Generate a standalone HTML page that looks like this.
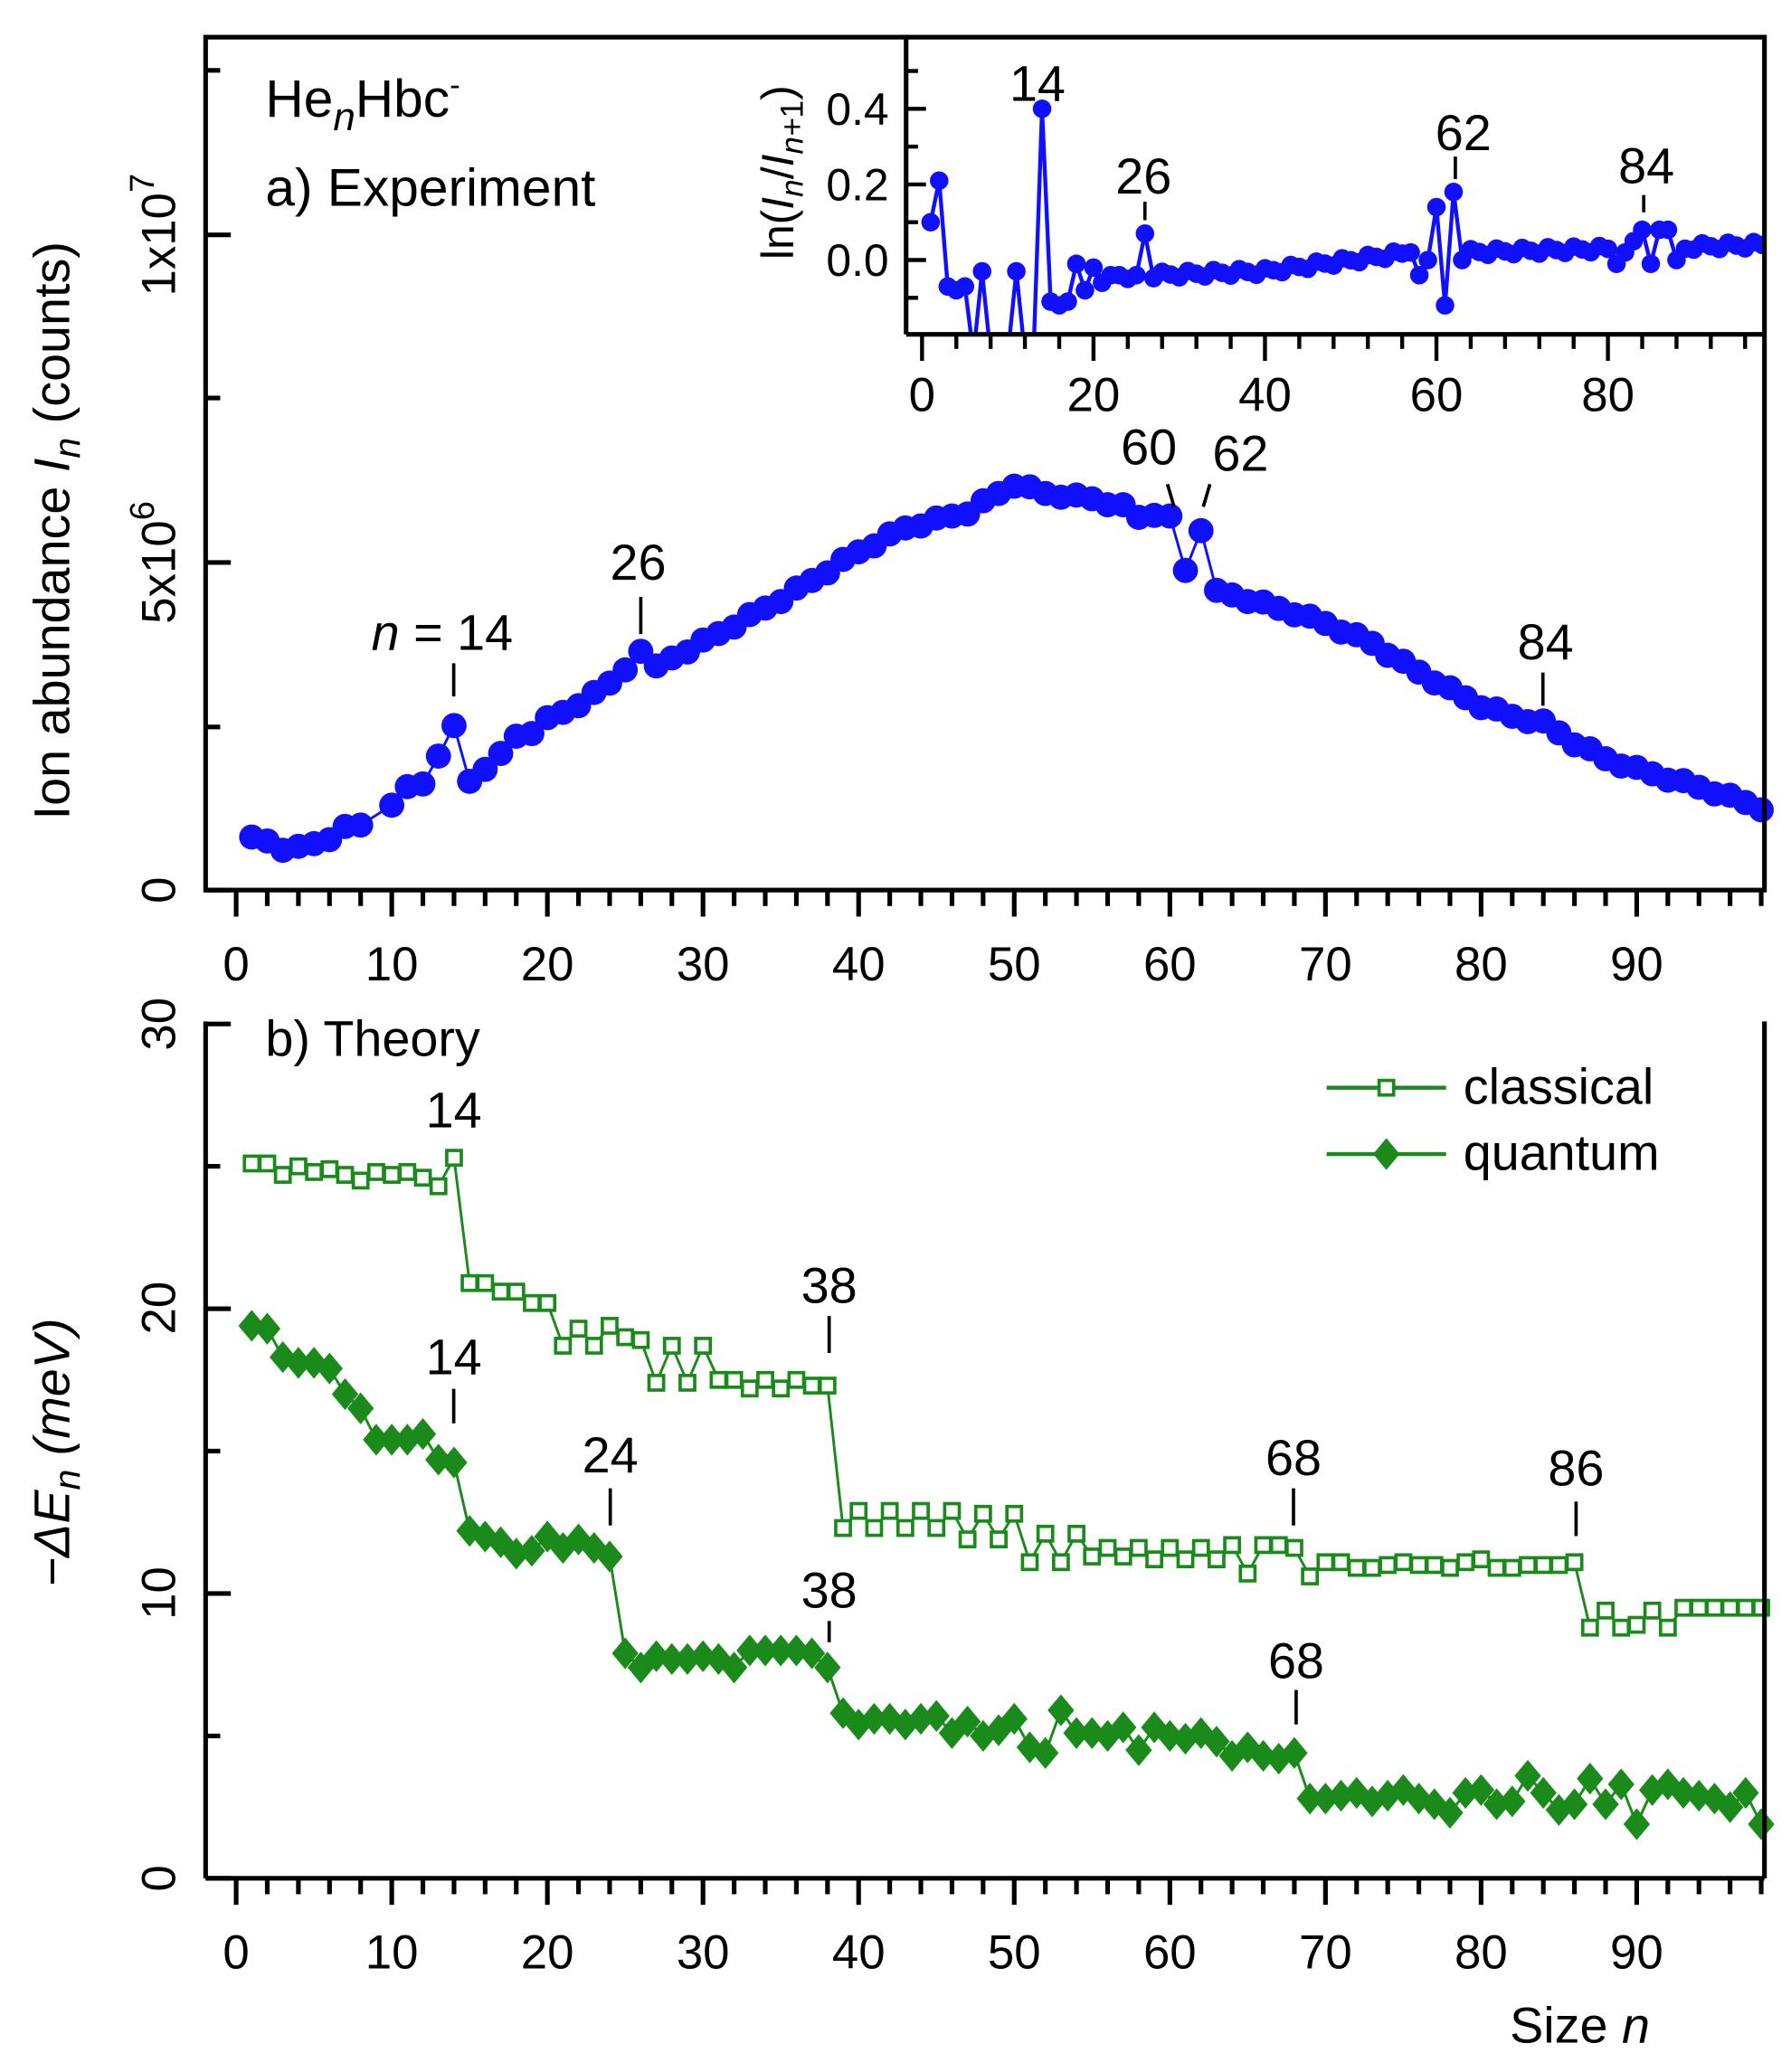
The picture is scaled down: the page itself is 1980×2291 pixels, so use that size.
<!DOCTYPE html>
<html><head><meta charset="utf-8"><style>
html,body{margin:0;padding:0;background:#fff}
svg{display:block}
text{font-family:"Liberation Sans",Arial,sans-serif;fill:#000}
</style></head><body>
<svg id="s" width="1980" height="2291" viewBox="0 0 1350 1562" xmlns="http://www.w3.org/2000/svg">
<defs>
<clipPath id="ci"><rect x="683" y="28" width="647" height="224"/></clipPath>
</defs>
<g id="g"></g>
<text x="200" y="88" font-size="40">He<tspan font-style="italic" font-size="30" dy="10">n</tspan><tspan dy="-10">Hbc</tspan><tspan font-size="24" dy="-16">-</tspan></text>
<text x="200" y="155" font-size="40">a) Experiment</text>
<text transform="translate(52,400) rotate(-90)" font-size="38" text-anchor="middle">Ion abundance <tspan font-style="italic">I</tspan><tspan font-style="italic" font-size="28" dy="8">n</tspan><tspan dy="-8"> (counts)</tspan></text>
<text transform="translate(132,671) rotate(-90)" font-size="36" text-anchor="middle">0</text>
<text transform="translate(132,424) rotate(-90)" font-size="36" text-anchor="middle">5x10<tspan font-size="26" dy="-16">6</tspan></text>
<text transform="translate(132,177) rotate(-90)" font-size="36" text-anchor="middle">1x10<tspan font-size="26" dy="-16">7</tspan></text>
<text transform="translate(598,130) rotate(-90)" font-size="34" text-anchor="middle">ln(<tspan font-style="italic">I</tspan><tspan font-style="italic" font-size="24" dy="7">n</tspan><tspan dy="-7">/</tspan><tspan font-style="italic">I</tspan><tspan font-style="italic" font-size="24" dy="7">n+</tspan><tspan font-size="24">1</tspan><tspan dy="-7">)</tspan></text>
<text x="280" y="490" font-size="38"><tspan font-style="italic">n</tspan> = 14</text>
<text x="481" y="437" font-size="38" text-anchor="middle">26</text>
<text x="866" y="350" font-size="38" text-anchor="middle">60</text>
<text x="935" y="355" font-size="38" text-anchor="middle">62</text>
<text x="1165" y="497" font-size="38" text-anchor="middle">84</text>
<text x="782" y="76" font-size="38" text-anchor="middle">14</text>
<text x="862" y="146" font-size="38" text-anchor="middle">26</text>
<text x="1103" y="113" font-size="38" text-anchor="middle">62</text>
<text x="1241" y="138" font-size="38" text-anchor="middle">84</text>
<text x="200" y="796" font-size="38">b) Theory</text>
<text x="342" y="850" font-size="38" text-anchor="middle">14</text>
<text x="625" y="982" font-size="38" text-anchor="middle">38</text>
<text x="342" y="1036" font-size="38" text-anchor="middle">14</text>
<text x="460" y="1110" font-size="38" text-anchor="middle">24</text>
<text x="625" y="1212" font-size="38" text-anchor="middle">38</text>
<text x="975" y="1112" font-size="38" text-anchor="middle">68</text>
<text x="977" y="1265" font-size="38" text-anchor="middle">68</text>
<text x="1188" y="1120" font-size="38" text-anchor="middle">86</text>
<text x="1103" y="832" font-size="38">classical</text>
<text x="1103" y="882" font-size="38">quantum</text>
<text transform="translate(52,1095) rotate(-90)" font-size="38" text-anchor="middle" font-style="italic">−ΔE<tspan font-size="28" dy="8">n</tspan><tspan dy="-8"> (meV)</tspan></text>
<text transform="translate(132,1416) rotate(-90)" font-size="36" text-anchor="middle">0</text>
<text transform="translate(132,1201) rotate(-90)" font-size="36" text-anchor="middle">10</text>
<text transform="translate(132,986) rotate(-90)" font-size="36" text-anchor="middle">20</text>
<text transform="translate(132,772) rotate(-90)" font-size="36" text-anchor="middle">30</text>
<text x="1138" y="1540" font-size="38">Size <tspan font-style="italic">n</tspan></text>
</svg>
<script>
var NS="http://www.w3.org/2000/svg",G=document.getElementById("g");
function el(t,a,p){var e=document.createElementNS(NS,t);for(var k in a)e.setAttribute(k,a[k]);(p||G).appendChild(e);return e;}
function X(n){return 178+11.73*n;}
function XI(n){return 695+6.4625*n;}
var B="#1010ff",GR="#1a8a1a";
var topY={1:631,2:634,3:641,4:638,5:636,6:633,7:623,8:622,10:607,11:593,12:591,13:570,14:547,15:589,16:580,17:568,18:555,19:553,20:541,21:537,22:532,23:522,24:515,25:505,26:491,27:502};
var anchors=[[27,502],[30,484],[35,452],[40,416],[43,398],[45,392],[47,386],[50,365],[52,372],[55,376],[57,382],[58,390],[59,387],[60,389],[61,430],[62,400],[63,445],[65,452],[68,462],[70,470],[73,485],[75,500],[78,520],[80,532],[82,540],[84,545],[86,560],[88,572],[90,580],[93,590],[95,597],[98,609]];
for(var i=0;i<anchors.length-1;i++){var a=anchors[i],b=anchors[i+1];for(var n=a[0];n<=b[0];n++){if(n==61||n==62||topY[n]!==undefined&&n<28)continue;topY[n]=a[1]+(b[1]-a[1])*(n-a[0])/(b[0]-a[0])+((n*7)%3-1)*1.5;}}
topY[61]=430;topY[62]=400;topY[60]=389;topY[63]=445;
var pts=[];for(var n=1;n<=98;n++)if(topY[n]!==undefined)pts.push(X(n)+","+topY[n]);
el("polyline",{points:pts.join(" "),fill:"none",stroke:B,"stroke-width":2});
for(var n=1;n<=98;n++)if(topY[n]!==undefined)el("circle",{cx:X(n),cy:topY[n],r:9.5,fill:B});
var iv={1:0.1,2:0.21,3:-0.07,4:-0.08,5:-0.07,6:-0.25,7:-0.03,8:-0.25,9:-0.25,10:-0.25,11:-0.03,12:-0.25,13:-0.25,14:0.4,15:-0.11,16:-0.12,17:-0.11,18:-0.01,19:-0.08,20:-0.02,21:-0.06,22:-0.04,23:-0.04,24:-0.05,25:-0.04,26:0.07,57:0.02,58:-0.04,59:0.0,60:0.14,61:-0.12,62:0.18,63:0.0,81:-0.01,82:0.02,83:0.05,84:0.08,85:-0.01,86:0.08,87:0.08,88:0.0,89:0.03};
for(var n=27;n<=98;n++){if(iv[n]===undefined){var v;if(n<=40)v=-0.04+0.01*(n-27)/13;else if(n<=57)v=-0.03+0.05*(n-40)/17;else v=0.02+0.02*(n-63)/35;iv[n]=v+((n*5)%3-1)*0.008;}}
var ig=el("g",{"clip-path":"url(#ci)"});
var ip=[];for(var n=1;n<=98;n++)ip.push(XI(n)+","+(196-285*iv[n]));
el("polyline",{points:ip.join(" "),fill:"none",stroke:B,"stroke-width":3},ig);
for(var n=1;n<=98;n++)el("circle",{cx:XI(n),cy:196-285*iv[n],r:7,fill:B},ig);
function YB(v){return 1416-21.47*v;}
var cl=[25.1,25.1,24.7,25.0,24.8,24.9,24.7,24.5,24.8,24.7,24.8,24.6,24.3,25.3,20.9,20.9,20.6,20.6,20.2,20.2,18.7,19.3,18.7,19.4,19.0,18.9,17.4,18.7,17.4,18.7,17.5,17.5,17.2,17.5,17.2,17.5,17.3,17.3,12.3,12.9,12.3,12.9,12.3,12.9,12.3,12.9,11.9,12.8,11.9,12.8,11.1,12.1,11.1,12.1,11.3,11.6,11.3,11.6,11.2,11.6,11.2,11.6,11.2,11.7,10.7,11.7,11.7,11.6,10.6,11.1,11.1,10.9,10.9,11.0,11.1,11.0,11.0,10.9,11.1,11.2,10.9,10.9,11.0,11.0,11.0,11.1,8.8,9.4,8.8,8.9,9.4,8.8,9.5,9.5,9.5,9.5,9.5,9.5];
var qu=[19.4,19.3,18.3,18.1,18.1,17.9,17.0,16.5,15.4,15.4,15.4,15.6,14.7,14.6,12.2,12.0,11.8,11.4,11.5,12.0,11.6,11.9,11.6,11.3,7.9,7.4,7.8,7.7,7.7,7.8,7.7,7.4,8.0,8.0,8.0,8.0,7.9,7.4,5.8,5.4,5.6,5.6,5.4,5.6,5.7,5.1,5.5,5.0,5.2,5.6,4.6,4.4,5.9,5.1,5.1,5.0,5.3,4.5,5.3,5.0,4.9,5.1,4.8,4.3,4.6,4.3,4.2,4.4,2.8,2.8,2.9,3.0,2.7,2.9,3.1,2.8,2.6,2.3,3.0,3.1,2.6,2.7,3.6,3.0,2.4,2.6,3.5,2.6,3.3,1.9,3.1,3.3,3.0,2.9,2.8,2.5,3.0,1.9];
var cp=[],qp=[];for(var i=0;i<98;i++){cp.push(X(i+1)+","+YB(cl[i]));qp.push(X(i+1)+","+YB(qu[i]));}
el("polyline",{points:cp.join(" "),fill:"none",stroke:GR,"stroke-width":2});
el("polyline",{points:qp.join(" "),fill:"none",stroke:GR,"stroke-width":2});
for(var i=0;i<98;i++){var x=X(i+1),y=YB(cl[i]);el("rect",{x:x-5.5,y:y-5.5,width:11,height:11,fill:"#fff",stroke:GR,"stroke-width":2.5});}
for(var i=0;i<98;i++){var x=X(i+1),y=YB(qu[i]);el("polygon",{points:(x)+","+(y-12)+" "+(x+10)+","+y+" "+x+","+(y+12)+" "+(x-10)+","+y,fill:GR});}
el("line",{x1:1000,y1:820,x2:1090,y2:820,stroke:GR,"stroke-width":3});
el("rect",{x:1039.5,y:814.5,width:11,height:11,fill:"#fff",stroke:GR,"stroke-width":2.5});
el("line",{x1:1000,y1:870,x2:1090,y2:870,stroke:GR,"stroke-width":3});
el("polygon",{points:"1045,858 1055,870 1045,882 1035,870",fill:GR});
var K="#000";
function L(x1,y1,x2,y2,w){el("line",{x1:x1,y1:y1,x2:x2,y2:y2,stroke:K,"stroke-width":w||3.5});}
el("rect",{x:155,y:28,width:1175,height:643,fill:"none",stroke:K,"stroke-width":3.5});
L(683,28,683,252);L(683,252,1330,252);
function xt(yb){for(var n=0;n<=98;n+=2){var x=X(n);var maj=n%10==0;L(x,yb,x,yb+(maj?20:12),3.5);if(maj&&n<=90){var t=el("text",{x:x,y:yb+68,"font-size":36,"text-anchor":"middle"});t.textContent=n;}}}
xt(671);xt(1416);
[671,548,424,300,177,53].forEach(function(y,i){L(155,y,i%2==0?174:166,y);});
for(var n=0;n<=98;n+=4){var x=XI(n);var maj=n%20==0;L(x,252,x,252+(maj?20:11),3);if(maj){var t=el("text",{x:x,y:310,"font-size":36,"text-anchor":"middle"});t.textContent=n;}}
[[-0.1,0],[0,1],[0.1,0],[0.2,1],[0.3,0],[0.4,1],[0.5,0]].forEach(function(p){var y=196-285*p[0];L(683,y,p[1]?698:692,y,3);if(p[1]){var t=el("text",{x:670,y:y+12,"font-size":34,"text-anchor":"end"});t.textContent=p[0].toFixed(1);}});
L(155,770,155,1416);L(1330,770,1330,1416);L(155,1416,1330,1416);
[0,5,10,15,20,25,30].forEach(function(v){var y=YB(v);L(155,y,v%10==0?174:166,y);});
L(342,500,342,525,2.5);L(483,450,483,478,2.5);L(880,365,885,382,2.5);L(912,365,907,382,2.5);L(1163,507,1163,532,2.5);
L(863,152,863,166,2.5);L(1097,118,1097,135,2.5);L(1239,147,1239,160,2.5);
L(625,992,625,1020,2.5);L(342,1047,342,1073,2.5);L(460,1122,460,1150,2.5);L(625,1222,625,1238,2.5);L(975,1122,975,1150,2.5);L(977,1274,977,1300,2.5);L(1188,1132,1188,1158,2.5);
</script>
</body></html>
